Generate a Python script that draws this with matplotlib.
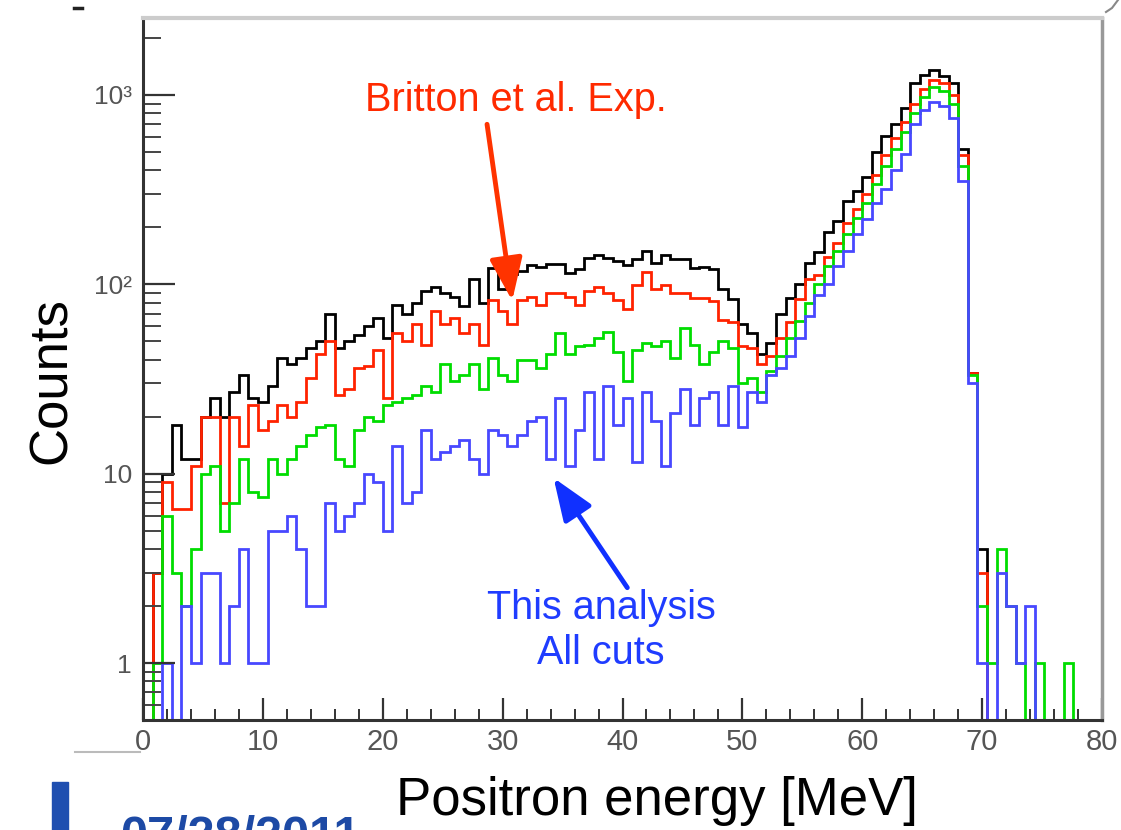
import numpy as np
import matplotlib
matplotlib.use("Agg")
import matplotlib.pyplot as plt
from matplotlib.patches import Rectangle
from matplotlib.lines import Line2D

plt.rcParams['font.family'] = ['Liberation Sans', 'DejaVu Sans']

# ---------------- data (counts per 0.8 MeV bin, 0-80 MeV) ----------------
E_MIN, E_MAX = 0.0, 80.0
N_BINS = 100

black_counts = [
    0, 3, 10, 18, 12, 12, 20, 25, 20, 27,
    33, 25, 24, 29, 41, 38, 41, 46, 50, 70,
    46, 50, 54, 60, 66, 52, 78, 70, 80, 92,
    97, 90, 86, 77, 107, 80, 122, 95, 113, 118,
    126, 124, 128, 128, 115, 120, 138, 142, 138, 132,
    126, 136, 150, 130, 142, 136, 136, 122, 124, 120,
    95, 84, 62, 55, 43, 49, 70, 85, 100, 130,
    148, 190, 215, 275, 310, 370, 500, 610, 700, 850,
    1150, 1280, 1350, 1260, 1150, 520, 34, 4, 0, 0,
    0, 0, 0, 0, 0, 0, 0, 0, 0, 0]

red_counts = [
    0, 3, 9, 6.5, 6.5, 11, 20, 20, 7, 20,
    14, 23, 17, 19, 23, 20, 24, 32, 43, 50,
    26, 28, 36, 37, 45, 25, 55, 50, 62, 48,
    72, 62, 66, 55, 62, 48, 83, 72, 62, 83,
    86, 78, 90, 90, 86, 78, 92, 97, 90, 83,
    74, 99, 116, 95, 99, 90, 90, 85, 85, 82,
    65, 63, 47, 46, 38, 42, 52, 63, 84, 107,
    112, 140, 166, 210, 250, 300, 380, 480, 590, 720,
    900, 1080, 1200, 1150, 1000, 480, 34, 3, 0, 0,
    0, 0, 0, 0, 0, 0, 0, 0, 0, 0]

green_counts = [
    0, 1, 6, 3, 2, 4, 10, 11, 5, 7,
    12, 8, 7.5, 12, 10, 12, 14, 16, 17.6, 18,
    12, 11, 17, 20, 19, 23, 24, 25, 26, 29,
    27, 38, 31, 33, 38, 28, 41, 33, 31, 40,
    40, 36, 43, 55, 43, 47, 48, 52, 56, 44,
    31, 45, 49, 47, 50, 41, 59, 48, 38, 44,
    50, 46, 30, 32, 27, 35, 42, 52, 64, 80,
    100, 125, 150, 185, 225, 270, 340, 420, 520, 640,
    800, 980, 1100, 1050, 900, 420, 33, 2, 1, 4,
    2, 1, 0, 1, 0, 0, 1, 0, 0, 0]

blue_counts = [
    0, 0, 1, 0, 2, 1, 3, 3, 1, 2,
    4, 1, 1, 5, 5, 6, 4, 2, 2, 7,
    5, 6, 7, 10, 9, 5, 14, 7, 8, 17,
    12, 13, 14, 15, 12, 10, 17, 16, 14, 16,
    19, 20, 12, 25, 11, 17, 27, 12, 29, 18,
    25, 11.5, 27, 19, 11, 21, 28, 18, 25, 27,
    18, 29, 17.6, 27, 24, 33, 36, 42, 52, 68,
    88, 100, 125, 150, 185, 220, 270, 320, 400, 490,
    700, 830, 920, 870, 760, 350, 30, 1, 0, 3,
    2, 1, 2, 0, 0, 0, 0, 0, 0, 0]

x_ticks = [0, 10, 20, 30, 40, 50, 60, 70, 80]
y_ticks = [1, 10, 100, 1000]
y_tick_labels = ['1', '10', '10\u00b2', '10\u00b3']

series = [
    (black_counts, '#000000'),
    (red_counts, '#ff2200'),
    (green_counts, '#00dd00'),
    (blue_counts, '#4848ff'),
]

Y_MIN, Y_MAX = 0.5, 2550

# ---------------- figure ----------------
W, H = 1121, 830
fig = plt.figure(figsize=(W / 100, H / 100), dpi=100)
fig.patch.set_facecolor('white')

def fx(px):
    return px / W

def fy(py):
    return 1 - py / H

ax = fig.add_axes([fx(143), fy(720), (1102 - 143) / W, (720 - 18) / H])
ax.set_xlim(E_MIN, E_MAX)
ax.set_yscale('log')
ax.set_ylim(Y_MIN, Y_MAX)

edges = np.linspace(E_MIN, E_MAX, N_BINS + 1)
for counts, col in series:
    vals = np.asarray(counts, dtype=float)
    vals = np.where(vals > 0, vals, Y_MIN)
    ax.stairs(vals, edges, baseline=Y_MIN, color=col, lw=2.0)

# spines
for s in ['left', 'bottom']:
    ax.spines[s].set_color('#333333')
    ax.spines[s].set_linewidth(2.2)
ax.spines['top'].set_color('#cccccc')
ax.spines['top'].set_linewidth(3)
ax.spines['right'].set_color('#999999')
ax.spines['right'].set_linewidth(2.5)

# ticks
ax.set_xticks(x_ticks)
ax.set_xticklabels([str(t) for t in x_ticks])
ax.set_xticks(np.arange(0, 81, 2), minor=True)
ax.set_yticks(y_ticks)
ax.set_yticklabels(y_tick_labels)
ax.yaxis.set_minor_locator(matplotlib.ticker.LogLocator(base=10, subs=np.arange(2, 10)))
ax.yaxis.set_minor_formatter(matplotlib.ticker.NullFormatter())

ax.tick_params(axis='x', which='major', direction='in', length=16, width=1.6,
               color='#333333', labelsize=21, labelcolor='#555555', pad=6)
ax.tick_params(axis='x', which='minor', direction='in', length=8, width=1.4,
               color='#333333')
ax.tick_params(axis='y', which='major', direction='in', length=23, width=1.6,
               color='#333333', labelsize=19, labelcolor='#555555', pad=8)
ax.tick_params(axis='y', which='minor', direction='in', length=13, width=1.4,
               color='#444444')
ax.tick_params(top=False, right=False)

# annotations
ax.text(31.1, 940, 'Britton et al. Exp.', color='#ff2a00', fontsize=28.5,
        ha='center', va='center')
ax.annotate('', xy=(30.8, 82), xytext=(28.7, 700),
            arrowprops=dict(arrowstyle='-|>,head_length=1.3,head_width=0.5',
                            mutation_scale=20, color='#ff3300', lw=3.5,
                            shrinkA=0, shrinkB=0))
ax.text(38.2, 1.95, 'This analysis', color='#1f3cff', fontsize=28.5,
        ha='center', va='center')
ax.text(38.2, 1.13, 'All cuts', color='#1f3cff', fontsize=28.5,
        ha='center', va='center')
ax.annotate('', xy=(34.25, 9.5), xytext=(40.4, 2.5),
            arrowprops=dict(arrowstyle='-|>,head_length=1.3,head_width=0.5',
                            mutation_scale=20, color='#1030ff', lw=3.5,
                            shrinkA=0, shrinkB=0))

# axis titles
fig.text(fx(52), fy(381), 'Counts', rotation=90, fontsize=38,
         ha='center', va='center', color='black')
fig.text(fx(657), fy(815), 'Positron energy [MeV]', fontsize=38,
         ha='center', va='baseline', color='black')

# slide decorations (date is cut by the bottom edge, as in the reference)
fig.patches.append(Rectangle((fx(52), 0), 16 / W, 48 / H, transform=fig.transFigure,
                             color='#1f4fb0', zorder=5))
fig.text(fx(120), fy(850), '07/28/2011', fontsize=35, fontweight='bold',
         color='#1d4aa5', ha='left', va='baseline')
fig.add_artist(Line2D([fx(75), fx(140)], [fy(752), fy(752)], color='#bbbbbb', lw=1.5,
                      transform=fig.transFigure))
fig.add_artist(Line2D([fx(74), fx(82)], [fy(8), fy(8)], color='#222222', lw=2.5,
                      transform=fig.transFigure))
fig.add_artist(Line2D([fx(1106), fx(1112), fx(1118)], [fy(12), fy(8), fy(0)],
                      color='#888888', lw=1.5, transform=fig.transFigure))

fig.savefig('out.png', dpi=100)
